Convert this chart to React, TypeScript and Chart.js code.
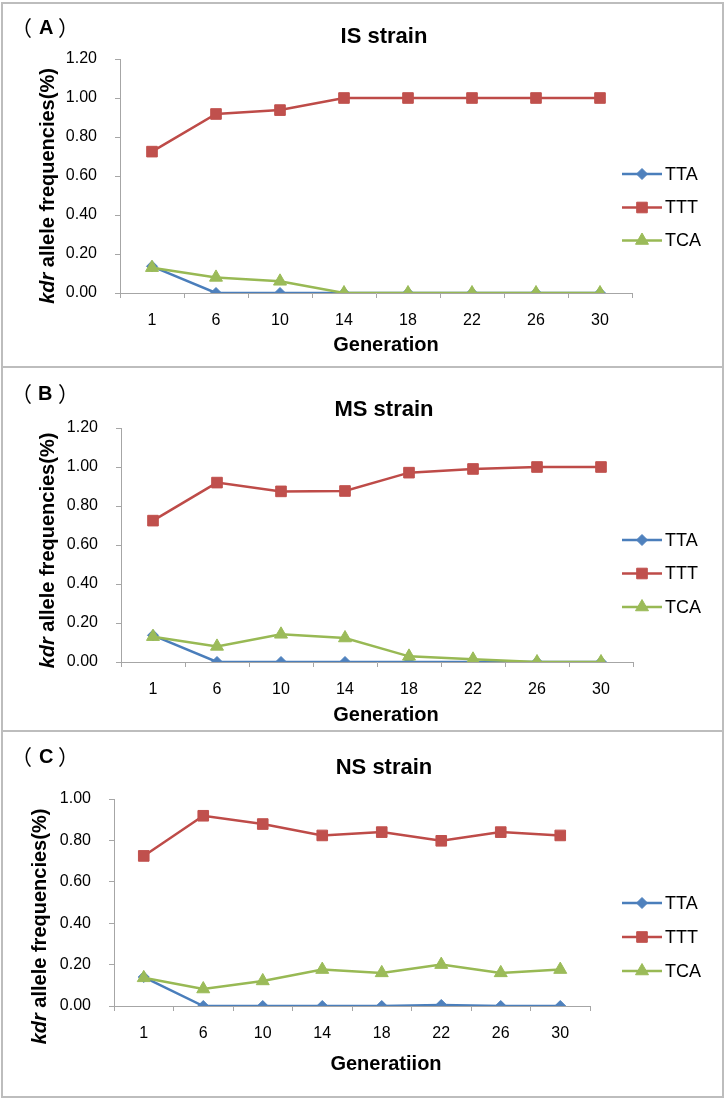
import React, { useEffect, useRef } from "react";
import { Chart, registerables } from "chart.js";
import { drawPoint } from "chart.js/helpers";

Chart.register(...registerables);

// ---------- data ----------
const generations = ["1", "6", "10", "14", "18", "22", "26", "30"];
const seriesNames = ["TTA", "TTT", "TCA"];

const isTTA = [0.137, 0, 0, 0, 0, 0, 0, 0];
const isTTT = [0.725, 0.918, 0.938, 1.0, 1.0, 1.0, 1.0, 1.0];
const isTCA = [0.13, 0.08, 0.06, 0, 0, 0, 0, 0];

const msTTA = [0.137, 0, 0, 0, 0, 0, 0, 0];
const msTTT = [0.725, 0.92, 0.875, 0.877, 0.971, 0.99, 1.0, 1.0];
const msTCA = [0.13, 0.08, 0.142, 0.123, 0.029, 0.014, 0, 0];

const nsTTA = [0.14, 0, 0, 0, 0, 0.005, 0, 0];
const nsTTT = [0.725, 0.919, 0.879, 0.824, 0.84, 0.798, 0.84, 0.824];
const nsTCA = [0.136, 0.082, 0.121, 0.176, 0.16, 0.2, 0.16, 0.176];

const panelLetters = ["A", "B", "C"];
const panelTitles = ["IS strain", "MS strain", "NS strain"];
const xTitles = ["Generation", "Generation", "Generatiion"];
const yMaxes = [1.2, 1.2, 1.0];
const yTitleItalic = "kdr";
const yTitleRest = " allele frequencies(%)";

// ---------- styles ----------
const FONT = '"Liberation Sans", Arial, sans-serif';
const CJK = '"Noto Sans CJK SC", sans-serif';
const lineColors = ["#4A7EBB", "#BE4B48", "#98B954"];
const markerColors = ["#4F81BD", "#C0504D", "#9BBB59"];
const pointStyles = ["rectRot", "rect", "triangle"];
const pointRadii = [5.5, 7.5, 7.5];
const drawOrder = [2, 1, 0];
const axisColor = "#a6a6a6";

type Panel = {
  top: number;
  height: number;
  left: number;
  right: number;
  plotTop: number;
  plotBottom: number;
  labelY: number;
  titleY: number;
  xTitleY: number;
  yTitleX: number;
  yTitleY: number;
  legendY: number[];
};

const panels: Panel[] = [
  { top: 0, height: 367, left: 120, right: 632, plotTop: 59, plotBottom: 293, labelY: 33.5, titleY: 42.5, xTitleY: 350.5, yTitleX: 54, yTitleY: 186, legendY: [174, 207.5, 240.5] },
  { top: 367, height: 364, left: 121, right: 633, plotTop: 61, plotBottom: 295, labelY: 32.5, titleY: 49, xTitleY: 354, yTitleX: 54, yTitleY: 183.5, legendY: [173, 206.5, 240] },
  { top: 731, height: 369, left: 114, right: 590, plotTop: 68, plotBottom: 275, labelY: 31.5, titleY: 43, xTitleY: 338.5, yTitleX: 46, yTitleY: 195.5, legendY: [172, 206, 240] },
];

const panelSeries = [
  [isTTA, isTTT, isTCA],
  [msTTA, msTTT, msTCA],
  [nsTTA, nsTTT, nsTCA],
];

function drawAtLeft(ctx: CanvasRenderingContext2D, text: string, left: number, y: number) {
  ctx.textAlign = "left";
  const m = ctx.measureText(text);
  ctx.fillText(text, left + (m.actualBoundingBoxLeft || 0), y);
}

const decorPlugin = {
  id: "decor",
  afterDraw(chart: any, _args: any, opts: any) {
    const ctx = chart.ctx as CanvasRenderingContext2D;
    ctx.save();
    ctx.fillStyle = "#000";
    ctx.textBaseline = "alphabetic";

    // panel label （X）
    ctx.font = `21px ${CJK}`;
    drawAtLeft(ctx, "（", 25, opts.labelY + 2);
    ctx.font = `bold 20px ${FONT}`;
    drawAtLeft(ctx, opts.letter, 39, opts.labelY);
    ctx.font = `21px ${CJK}`;
    drawAtLeft(ctx, "）", 58, opts.labelY + 2);

    ctx.textAlign = "center";
    ctx.font = `bold 22px ${FONT}`;
    ctx.fillText(opts.title, 384, opts.titleY);

    ctx.font = `bold 20px ${FONT}`;
    ctx.fillText(opts.xTitle, 386, opts.xTitleY);

    // y title with italic part
    ctx.save();
    ctx.translate(opts.yTitleX, opts.yTitleY);
    ctx.rotate(-Math.PI / 2);
    const fi = `italic bold 20px ${FONT}`;
    const fr = `bold 20px ${FONT}`;
    ctx.font = fi;
    const w1 = ctx.measureText(yTitleItalic).width;
    ctx.font = fr;
    const w2 = ctx.measureText(yTitleRest).width;
    const x0 = -(w1 + w2) / 2;
    ctx.textAlign = "left";
    ctx.font = fi;
    ctx.fillText(yTitleItalic, x0, 0);
    ctx.font = fr;
    ctx.fillText(yTitleRest, x0 + w1, 0);
    ctx.restore();

    // legend
    chart.data.datasets.forEach((ds: any, i: number) => {
      const y = opts.legendY[i];
      ctx.strokeStyle = ds.borderColor;
      ctx.lineWidth = ds.borderWidth;
      ctx.beginPath();
      ctx.moveTo(622, y);
      ctx.lineTo(662, y);
      ctx.stroke();
      ctx.fillStyle = ds.pointBackgroundColor;
      ctx.strokeStyle = ds.pointBorderColor;
      ctx.lineWidth = ds.pointBorderWidth;
      drawPoint(ctx, { pointStyle: ds.pointStyle, radius: ds.pointRadius, borderWidth: ds.pointBorderWidth, rotation: 0 } as any, 642, y);
      ctx.fillStyle = "#000";
      ctx.font = `18px ${FONT}`;
      ctx.textAlign = "left";
      ctx.textBaseline = "middle";
      ctx.fillText(ds.label, 665, y + 1);
      ctx.textBaseline = "alphabetic";
    });
    ctx.restore();
  },
};

function PanelChart({ idx }: { idx: number }) {
  const ref = useRef<HTMLCanvasElement | null>(null);
  useEffect(() => {
    const p = panels[idx];
    const series = panelSeries[idx];
    const chart = new Chart(ref.current as HTMLCanvasElement, {
      type: "line",
      data: {
        labels: generations,
        datasets: seriesNames.map((name, i) => ({
          label: name,
          data: series[i],
          borderColor: lineColors[i],
          borderWidth: 2.5,
          backgroundColor: markerColors[i],
          pointBackgroundColor: markerColors[i],
          pointBorderColor: markerColors[i],
          pointBorderWidth: 1,
          pointStyle: pointStyles[i],
          pointRadius: pointRadii[i],
          tension: 0,
          fill: false,
          order: drawOrder[i],
        })),
      },
      options: {
        responsive: false,
        maintainAspectRatio: false,
        animation: false,
        devicePixelRatio: 1,
        layout: {
          padding: { left: 0, right: 727 - p.right, top: p.plotTop, bottom: 0 },
        },
        plugins: {
          legend: { display: false },
          title: { display: false },
          tooltip: { enabled: false },
          decor: {
            letter: panelLetters[idx],
            title: panelTitles[idx],
            xTitle: xTitles[idx],
            labelY: p.labelY,
            titleY: p.titleY,
            xTitleY: p.xTitleY,
            yTitleX: p.yTitleX,
            yTitleY: p.yTitleY,
            legendY: p.legendY,
          },
        } as any,
        scales: {
          x: {
            type: "category",
            offset: true,
            grid: { display: true, drawOnChartArea: false, drawTicks: true, tickLength: 5, offset: true, color: axisColor },
            border: { color: axisColor, width: 1 },
            ticks: { color: "#000", font: { family: FONT, size: 16 }, padding: 13, autoSkip: false, maxRotation: 0 },
            afterFit: (s: any) => {
              s.height = p.height - p.plotBottom;
            },
          },
          y: {
            min: 0,
            max: yMaxes[idx],
            grid: { display: true, drawOnChartArea: false, drawTicks: true, tickLength: 5, color: axisColor },
            border: { color: axisColor, width: 1 },
            ticks: {
              stepSize: 0.2,
              color: "#000",
              font: { family: FONT, size: 16 },
              padding: 18,
              callback: (v: any) => Number(v).toFixed(2),
            },
            afterFit: (s: any) => {
              s.width = p.left;
            },
          },
        } as any,
      },
      plugins: [decorPlugin as any],
    });
    return () => chart.destroy();
  }, [idx]);
  const p = panels[idx];
  return (
    <canvas
      ref={ref}
      width={727}
      height={p.height}
      style={{ position: "absolute", left: 0, top: p.top, width: 727, height: p.height }}
    />
  );
}

const frames = [
  { top: 2, height: 366 },
  { top: 366, height: 366 },
  { top: 730, height: 368 },
];

export default function App() {
  return (
    <div style={{ position: "absolute", left: 0, top: 0, width: 727, height: 1100, background: "#fff" }}>
      {frames.map((f, i) => (
        <div
          key={"f" + i}
          style={{
            position: "absolute",
            left: 1,
            top: f.top,
            width: 723,
            height: f.height,
            border: "2px solid #bdbdbd",
            boxSizing: "border-box",
          }}
        />
      ))}
      {panels.map((_, i) => (
        <PanelChart key={i} idx={i} />
      ))}
    </div>
  );
}
